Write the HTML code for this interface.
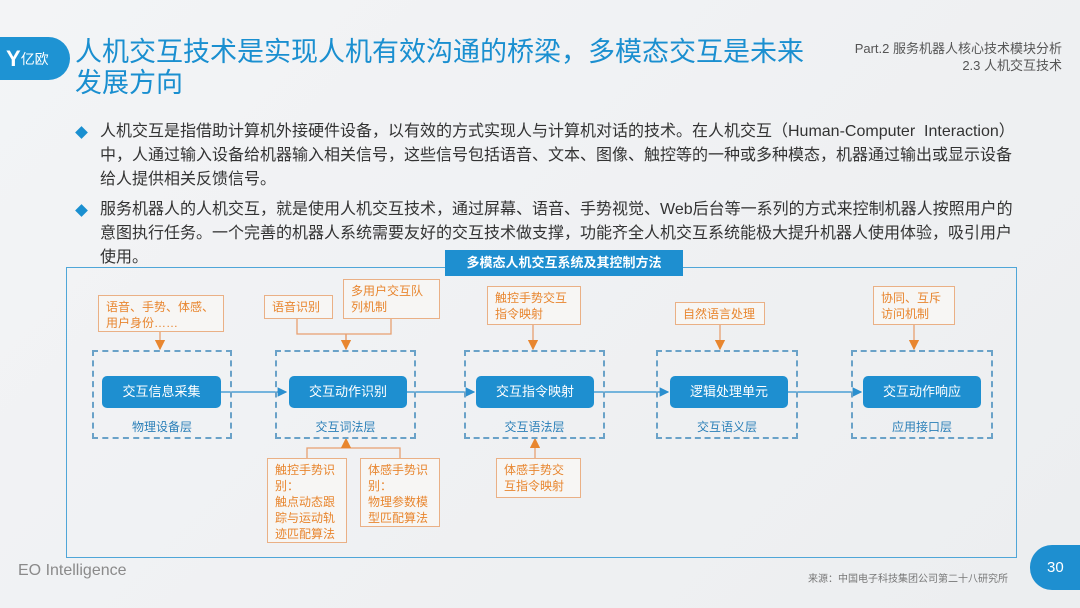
<!DOCTYPE html>
<html><head><meta charset="utf-8"><style>
*{margin:0;padding:0;box-sizing:border-box}
body{width:1080px;height:608px;overflow:hidden;background:linear-gradient(135deg,#f3f4f6,#eceef0);font-family:"Liberation Sans","Noto Sans CJK SC",sans-serif;position:relative}
.a{position:absolute}
.t{color:#1a8fd0;font-size:27px;line-height:31px;left:75px;top:37px;white-space:nowrap}
.hd{right:18px;color:#555;font-size:13px;text-align:right;line-height:17px;top:40px}
.p{left:100px;font-size:16px;color:#333;line-height:24px;white-space:nowrap}
.dia{width:9px;height:9px;background:#1a8fd0;transform:rotate(45deg);left:77px}
.frame{left:66px;top:267px;width:951px;height:291px;border:1.5px solid #4fa6d8}
.tab{left:445px;top:250px;width:238px;height:26px;background:#1e8fd0;color:#fff;font-weight:bold;font-size:13px;text-align:center;line-height:26px}
.dash{border:2px dashed #6aa2c8;height:89px;top:350px}
.btn{background:#1e8fd0;color:#fff;border-radius:5px;height:32px;top:376px;font-size:13px;text-align:center;line-height:32px}
.lay{top:418px;color:#2a7fb8;font-size:12px;text-align:center}
.o{border:1.5px solid #eab085;color:#e8862f;font-size:12px;line-height:16px;padding:3px 7px;background:#f7f6f4}
</style></head><body>
<div class="a" style="left:0;top:37px;width:70px;height:43px;background:#1e93d3;border-radius:0 22px 22px 0;color:#fff;font-size:14px;line-height:43px;padding-left:6px"><b style="font-size:22px;vertical-align:-2px">Y</b>亿欧</div>
<div class="a t">人机交互技术是实现人机有效沟通的桥梁，多模态交互是未来<br>发展方向</div>
<div class="a hd">Part.2 服务机器人核心技术模块分析<br>2.3 人机交互技术</div>
<div class="a dia" style="top:128px"></div>
<div class="a p" style="top:120px">人机交互是指借助计算机外接硬件设备，以有效的方式实现人与计算机对话的技术。在人机交互（Human-Computer &nbsp;Interaction）<br>中，人通过输入设备给机器输入相关信号，这些信号包括语音、文本、图像、触控等的一种或多种模态，机器通过输出或显示设备<br>给人提供相关反馈信号。</div>
<div class="a dia" style="top:206px"></div>
<div class="a p" style="top:198px">服务机器人的人机交互，就是使用人机交互技术，通过屏幕、语音、手势视觉、Web后台等一系列的方式来控制机器人按照用户的<br>意图执行任务。一个完善的机器人系统需要友好的交互技术做支撑，功能齐全人机交互系统能极大提升机器人使用体验，吸引用户<br>使用。</div>
<div class="a frame"></div>
<div class="a tab">多模态人机交互系统及其控制方法</div>

<svg class="a" style="left:0;top:0" width="1080" height="608">
<defs><marker id="b" markerWidth="8" markerHeight="8" refX="7" refY="4" orient="auto"><path d="M0,0L8,4L0,8z" fill="#2a8fcf"/></marker>
<marker id="o" markerWidth="8" markerHeight="8" refX="7" refY="4" orient="auto"><path d="M0,0L8,4L0,8z" fill="#e8862f"/></marker></defs>
<g stroke="#2a8fcf" stroke-width="1.2" fill="none" marker-end="url(#b)">
<path d="M221,392H286"/><path d="M407,392H474"/><path d="M594,392H668"/><path d="M786,392H861"/></g>
<g stroke="#e8a070" stroke-width="1.3" fill="none">
<path d="M160,331V349" marker-end="url(#o)"/>
<path d="M297,318V334H391V318M346,334V349" />
<path d="M346,334V349" marker-end="url(#o)"/>
<path d="M533,324V349" marker-end="url(#o)"/>
<path d="M720,324V349" marker-end="url(#o)"/>
<path d="M914,324V349" marker-end="url(#o)"/>
<path d="M307,458V448H400V458"/><path d="M346,448V439" marker-end="url(#o)"/>
<path d="M535,458V439" marker-end="url(#o)"/>
</g></svg>

<div class="a dash" style="left:92px;width:140px"></div>
<div class="a dash" style="left:275px;width:141px"></div>
<div class="a dash" style="left:464px;width:141px"></div>
<div class="a dash" style="left:656px;width:142px"></div>
<div class="a dash" style="left:851px;width:142px"></div>
<div class="a btn" style="left:102px;width:119px">交互信息采集</div>
<div class="a btn" style="left:289px;width:118px">交互动作识别</div>
<div class="a btn" style="left:476px;width:118px">交互指令映射</div>
<div class="a btn" style="left:670px;width:118px">逻辑处理单元</div>
<div class="a btn" style="left:863px;width:118px">交互动作响应</div>
<div class="a lay" style="left:92px;width:140px">物理设备层</div>
<div class="a lay" style="left:275px;width:141px">交互词法层</div>
<div class="a lay" style="left:464px;width:141px">交互语法层</div>
<div class="a lay" style="left:656px;width:142px">交互语义层</div>
<div class="a lay" style="left:851px;width:142px">应用接口层</div>

<div class="a o" style="left:98px;top:295px;width:126px;height:37px">语音、手势、体感、<br>用户身份……</div>
<div class="a o" style="left:264px;top:295px;width:69px;height:24px">语音识别</div>
<div class="a o" style="left:343px;top:279px;width:97px;height:40px">多用户交互队<br>列机制</div>
<div class="a o" style="left:487px;top:286px;width:94px;height:39px">触控手势交互<br>指令映射</div>
<div class="a o" style="left:675px;top:302px;width:90px;height:23px">自然语言处理</div>
<div class="a o" style="left:873px;top:286px;width:82px;height:39px">协同、互斥<br>访问机制</div>
<div class="a o" style="left:267px;top:458px;width:80px;height:85px">触控手势识<br>别：<br>触点动态跟<br>踪与运动轨<br>迹匹配算法</div>
<div class="a o" style="left:360px;top:458px;width:80px;height:69px">体感手势识<br>别：<br>物理参数模<br>型匹配算法</div>
<div class="a o" style="left:496px;top:458px;width:85px;height:40px">体感手势交<br>互指令映射</div>

<div class="a" style="left:18px;top:562px;color:#8a8a8a;font-size:16px">EO Intelligence</div>
<div class="a" style="left:808px;top:570px;color:#777;font-size:10px">来源：中国电子科技集团公司第二十八研究所</div>
<div class="a" style="left:1030px;top:545px;width:60px;height:45px;background:#1e8fd0;border-radius:22px 0 0 22px;color:#fff;font-size:15px;line-height:45px;padding-left:17px">30</div>
</body></html>
